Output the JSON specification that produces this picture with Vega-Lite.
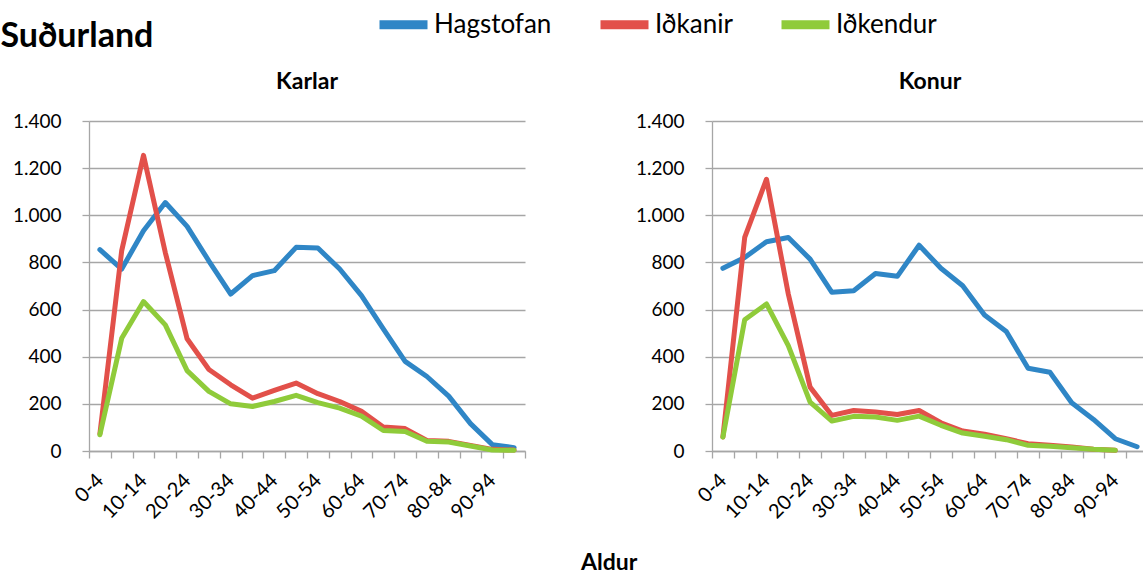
{
  "$schema": "https://vega.github.io/schema/vega-lite/v6.json",
  "padding": {"left": 0, "top": -4, "right": 0, "bottom": 0},
  "title": {"text": "Suðurland", "anchor": "start", "dx": -12, "fontSize": 34, "font": "Lato", "fontWeight": "bold", "color": "#000000", "offset": -58},
  "data": {"values": [
    {"kyn":"Karlar","aldur":"0-4","rod":"Hagstofan","fjoldi":854},
    {"kyn":"Karlar","aldur":"5-9","rod":"Hagstofan","fjoldi":772},
    {"kyn":"Karlar","aldur":"10-14","rod":"Hagstofan","fjoldi":934},
    {"kyn":"Karlar","aldur":"15-19","rod":"Hagstofan","fjoldi":1054},
    {"kyn":"Karlar","aldur":"20-24","rod":"Hagstofan","fjoldi":953},
    {"kyn":"Karlar","aldur":"25-29","rod":"Hagstofan","fjoldi":806},
    {"kyn":"Karlar","aldur":"30-34","rod":"Hagstofan","fjoldi":666},
    {"kyn":"Karlar","aldur":"35-39","rod":"Hagstofan","fjoldi":744},
    {"kyn":"Karlar","aldur":"40-44","rod":"Hagstofan","fjoldi":765},
    {"kyn":"Karlar","aldur":"45-49","rod":"Hagstofan","fjoldi":864},
    {"kyn":"Karlar","aldur":"50-54","rod":"Hagstofan","fjoldi":861},
    {"kyn":"Karlar","aldur":"55-59","rod":"Hagstofan","fjoldi":772},
    {"kyn":"Karlar","aldur":"60-64","rod":"Hagstofan","fjoldi":659},
    {"kyn":"Karlar","aldur":"65-69","rod":"Hagstofan","fjoldi":518},
    {"kyn":"Karlar","aldur":"70-74","rod":"Hagstofan","fjoldi":380},
    {"kyn":"Karlar","aldur":"75-79","rod":"Hagstofan","fjoldi":316},
    {"kyn":"Karlar","aldur":"80-84","rod":"Hagstofan","fjoldi":233},
    {"kyn":"Karlar","aldur":"85-89","rod":"Hagstofan","fjoldi":116},
    {"kyn":"Karlar","aldur":"90-94","rod":"Hagstofan","fjoldi":27},
    {"kyn":"Karlar","aldur":"95-99","rod":"Hagstofan","fjoldi":14},
    {"kyn":"Karlar","aldur":"0-4","rod":"Iðkanir","fjoldi":73},
    {"kyn":"Karlar","aldur":"5-9","rod":"Iðkanir","fjoldi":850},
    {"kyn":"Karlar","aldur":"10-14","rod":"Iðkanir","fjoldi":1254},
    {"kyn":"Karlar","aldur":"15-19","rod":"Iðkanir","fjoldi":842},
    {"kyn":"Karlar","aldur":"20-24","rod":"Iðkanir","fjoldi":476},
    {"kyn":"Karlar","aldur":"25-29","rod":"Iðkanir","fjoldi":346},
    {"kyn":"Karlar","aldur":"30-34","rod":"Iðkanir","fjoldi":281},
    {"kyn":"Karlar","aldur":"35-39","rod":"Iðkanir","fjoldi":224},
    {"kyn":"Karlar","aldur":"40-44","rod":"Iðkanir","fjoldi":257},
    {"kyn":"Karlar","aldur":"45-49","rod":"Iðkanir","fjoldi":288},
    {"kyn":"Karlar","aldur":"50-54","rod":"Iðkanir","fjoldi":243},
    {"kyn":"Karlar","aldur":"55-59","rod":"Iðkanir","fjoldi":210},
    {"kyn":"Karlar","aldur":"60-64","rod":"Iðkanir","fjoldi":168},
    {"kyn":"Karlar","aldur":"65-69","rod":"Iðkanir","fjoldi":102},
    {"kyn":"Karlar","aldur":"70-74","rod":"Iðkanir","fjoldi":95},
    {"kyn":"Karlar","aldur":"75-79","rod":"Iðkanir","fjoldi":45},
    {"kyn":"Karlar","aldur":"80-84","rod":"Iðkanir","fjoldi":41},
    {"kyn":"Karlar","aldur":"85-89","rod":"Iðkanir","fjoldi":24},
    {"kyn":"Karlar","aldur":"90-94","rod":"Iðkanir","fjoldi":7},
    {"kyn":"Karlar","aldur":"95-99","rod":"Iðkanir","fjoldi":4},
    {"kyn":"Karlar","aldur":"0-4","rod":"Iðkendur","fjoldi":69},
    {"kyn":"Karlar","aldur":"5-9","rod":"Iðkendur","fjoldi":478},
    {"kyn":"Karlar","aldur":"10-14","rod":"Iðkendur","fjoldi":634},
    {"kyn":"Karlar","aldur":"15-19","rod":"Iðkendur","fjoldi":535},
    {"kyn":"Karlar","aldur":"20-24","rod":"Iðkendur","fjoldi":341},
    {"kyn":"Karlar","aldur":"25-29","rod":"Iðkendur","fjoldi":253},
    {"kyn":"Karlar","aldur":"30-34","rod":"Iðkendur","fjoldi":200},
    {"kyn":"Karlar","aldur":"35-39","rod":"Iðkendur","fjoldi":189},
    {"kyn":"Karlar","aldur":"40-44","rod":"Iðkendur","fjoldi":210},
    {"kyn":"Karlar","aldur":"45-49","rod":"Iðkendur","fjoldi":236},
    {"kyn":"Karlar","aldur":"50-54","rod":"Iðkendur","fjoldi":205},
    {"kyn":"Karlar","aldur":"55-59","rod":"Iðkendur","fjoldi":182},
    {"kyn":"Karlar","aldur":"60-64","rod":"Iðkendur","fjoldi":148},
    {"kyn":"Karlar","aldur":"65-69","rod":"Iðkendur","fjoldi":87},
    {"kyn":"Karlar","aldur":"70-74","rod":"Iðkendur","fjoldi":83},
    {"kyn":"Karlar","aldur":"75-79","rod":"Iðkendur","fjoldi":41},
    {"kyn":"Karlar","aldur":"80-84","rod":"Iðkendur","fjoldi":38},
    {"kyn":"Karlar","aldur":"85-89","rod":"Iðkendur","fjoldi":21},
    {"kyn":"Karlar","aldur":"90-94","rod":"Iðkendur","fjoldi":4},
    {"kyn":"Karlar","aldur":"95-99","rod":"Iðkendur","fjoldi":3},
    {"kyn":"Konur","aldur":"0-4","rod":"Hagstofan","fjoldi":775},
    {"kyn":"Konur","aldur":"5-9","rod":"Hagstofan","fjoldi":821},
    {"kyn":"Konur","aldur":"10-14","rod":"Hagstofan","fjoldi":888},
    {"kyn":"Konur","aldur":"15-19","rod":"Hagstofan","fjoldi":906},
    {"kyn":"Konur","aldur":"20-24","rod":"Hagstofan","fjoldi":814},
    {"kyn":"Konur","aldur":"25-29","rod":"Hagstofan","fjoldi":673},
    {"kyn":"Konur","aldur":"30-34","rod":"Hagstofan","fjoldi":680},
    {"kyn":"Konur","aldur":"35-39","rod":"Hagstofan","fjoldi":753},
    {"kyn":"Konur","aldur":"40-44","rod":"Hagstofan","fjoldi":741},
    {"kyn":"Konur","aldur":"45-49","rod":"Hagstofan","fjoldi":873},
    {"kyn":"Konur","aldur":"50-54","rod":"Hagstofan","fjoldi":775},
    {"kyn":"Konur","aldur":"55-59","rod":"Hagstofan","fjoldi":701},
    {"kyn":"Konur","aldur":"60-64","rod":"Hagstofan","fjoldi":577},
    {"kyn":"Konur","aldur":"65-69","rod":"Hagstofan","fjoldi":507},
    {"kyn":"Konur","aldur":"70-74","rod":"Hagstofan","fjoldi":351},
    {"kyn":"Konur","aldur":"75-79","rod":"Hagstofan","fjoldi":334},
    {"kyn":"Konur","aldur":"80-84","rod":"Hagstofan","fjoldi":205},
    {"kyn":"Konur","aldur":"85-89","rod":"Hagstofan","fjoldi":134},
    {"kyn":"Konur","aldur":"90-94","rod":"Hagstofan","fjoldi":52},
    {"kyn":"Konur","aldur":"95-99","rod":"Hagstofan","fjoldi":18},
    {"kyn":"Konur","aldur":"0-4","rod":"Iðkanir","fjoldi":59},
    {"kyn":"Konur","aldur":"5-9","rod":"Iðkanir","fjoldi":906},
    {"kyn":"Konur","aldur":"10-14","rod":"Iðkanir","fjoldi":1153},
    {"kyn":"Konur","aldur":"15-19","rod":"Iðkanir","fjoldi":666},
    {"kyn":"Konur","aldur":"20-24","rod":"Iðkanir","fjoldi":271},
    {"kyn":"Konur","aldur":"25-29","rod":"Iðkanir","fjoldi":151},
    {"kyn":"Konur","aldur":"30-34","rod":"Iðkanir","fjoldi":172},
    {"kyn":"Konur","aldur":"35-39","rod":"Iðkanir","fjoldi":165},
    {"kyn":"Konur","aldur":"40-44","rod":"Iðkanir","fjoldi":155},
    {"kyn":"Konur","aldur":"45-49","rod":"Iðkanir","fjoldi":172},
    {"kyn":"Konur","aldur":"50-54","rod":"Iðkanir","fjoldi":120},
    {"kyn":"Konur","aldur":"55-59","rod":"Iðkanir","fjoldi":85},
    {"kyn":"Konur","aldur":"60-64","rod":"Iðkanir","fjoldi":71},
    {"kyn":"Konur","aldur":"65-69","rod":"Iðkanir","fjoldi":52},
    {"kyn":"Konur","aldur":"70-74","rod":"Iðkanir","fjoldi":31},
    {"kyn":"Konur","aldur":"75-79","rod":"Iðkanir","fjoldi":24},
    {"kyn":"Konur","aldur":"80-84","rod":"Iðkanir","fjoldi":17},
    {"kyn":"Konur","aldur":"85-89","rod":"Iðkanir","fjoldi":7},
    {"kyn":"Konur","aldur":"90-94","rod":"Iðkanir","fjoldi":3},
    {"kyn":"Konur","aldur":"0-4","rod":"Iðkendur","fjoldi":59},
    {"kyn":"Konur","aldur":"5-9","rod":"Iðkendur","fjoldi":557},
    {"kyn":"Konur","aldur":"10-14","rod":"Iðkendur","fjoldi":624},
    {"kyn":"Konur","aldur":"15-19","rod":"Iðkendur","fjoldi":447},
    {"kyn":"Konur","aldur":"20-24","rod":"Iðkendur","fjoldi":207},
    {"kyn":"Konur","aldur":"25-29","rod":"Iðkendur","fjoldi":127},
    {"kyn":"Konur","aldur":"30-34","rod":"Iðkendur","fjoldi":147},
    {"kyn":"Konur","aldur":"35-39","rod":"Iðkendur","fjoldi":144},
    {"kyn":"Konur","aldur":"40-44","rod":"Iðkendur","fjoldi":130},
    {"kyn":"Konur","aldur":"45-49","rod":"Iðkendur","fjoldi":148},
    {"kyn":"Konur","aldur":"50-54","rod":"Iðkendur","fjoldi":109},
    {"kyn":"Konur","aldur":"55-59","rod":"Iðkendur","fjoldi":76},
    {"kyn":"Konur","aldur":"60-64","rod":"Iðkendur","fjoldi":63},
    {"kyn":"Konur","aldur":"65-69","rod":"Iðkendur","fjoldi":48},
    {"kyn":"Konur","aldur":"70-74","rod":"Iðkendur","fjoldi":24},
    {"kyn":"Konur","aldur":"75-79","rod":"Iðkendur","fjoldi":20},
    {"kyn":"Konur","aldur":"80-84","rod":"Iðkendur","fjoldi":14},
    {"kyn":"Konur","aldur":"85-89","rod":"Iðkendur","fjoldi":7},
    {"kyn":"Konur","aldur":"90-94","rod":"Iðkendur","fjoldi":3}
  ]},
  "facet": {
    "column": {
      "field": "kyn", "type": "nominal", "sort": ["Karlar", "Konur"],
      "header": {
        "title": "Aldur", "titleOrient": "bottom", "labelOrient": "top", "titleAlign": "left",
        "titleFont": "Lato", "titleFontSize": 23, "titleFontWeight": "bold", "titleColor": "#000000", "titlePadding": 19,
        "labelFont": "Lato", "labelFontSize": 23, "labelFontWeight": "bold", "labelColor": "#000000", "labelPadding": 18
      }
    }
  },
  "spacing": 109,
  "resolve": {"axis": {"y": "independent", "x": "independent"}},
  "spec": {
    "width": 436,
    "height": 330,
    "mark": {"type": "line", "strokeWidth": 5, "strokeJoin": "round", "strokeCap": "round"},
    "encoding": {
      "x": {
        "field": "aldur", "type": "ordinal", "bandPosition": 0.5,
        "scale": {"type": "band", "paddingInner": 0, "paddingOuter": 0,
          "domain": ["0-4","5-9","10-14","15-19","20-24","25-29","30-34","35-39","40-44","45-49","50-54","55-59","60-64","65-69","70-74","75-79","80-84","85-89","90-94","95-99"]},
        "axis": {
          "title": null, "grid": false, "tickBand": "extent", "tickSize": 7, "tickColor": "#a6a6a6", "tickWidth": 1.3,
          "domainColor": "#a6a6a6", "domainWidth": 1.3,
          "labelAngle": -45, "labelAlign": "right", "labelBaseline": "middle", "labelPadding": 19,
          "labelFont": "Lato", "labelFontSize": 20, "labelColor": "#000000",
          "labelExpr": "indexof(['0-4','10-14','20-24','30-34','40-44','50-54','60-64','70-74','80-84','90-94'], datum.value) >= 0 ? datum.value : ''"
        }
      },
      "y": {
        "field": "fjoldi", "type": "quantitative",
        "scale": {"domain": [0, 1400], "nice": false},
        "axis": {
          "title": null, "values": [0, 200, 400, 600, 800, 1000, 1200, 1400],
          "grid": true, "gridColor": "#a6a6a6", "gridWidth": 1.3,
          "domainColor": "#a6a6a6", "domainWidth": 1.3, "tickColor": "#a6a6a6", "tickWidth": 1.3, "tickSize": 7,
          "labelPadding": 21, "labelFont": "Lato", "labelFontSize": 19, "labelColor": "#000000",
          "labelExpr": "replace(format(datum.value, ','), ',', '.')"
        }
      },
      "color": {
        "field": "rod", "type": "nominal",
        "scale": {"domain": ["Hagstofan", "Iðkanir", "Iðkendur"], "range": ["#2f86c6", "#e2504a", "#8fcb3a"]},
        "legend": {
          "title": null, "orient": "none", "direction": "horizontal", "legendX": 286, "legendY": -125,
          "symbolType": "stroke", "symbolStrokeWidth": 9, "symbolSize": 2304,
          "labelFont": "Lato", "labelFontSize": 26, "labelColor": "#000000", "labelOffset": 2, "columnPadding": 30
        }
      }
    }
  },
  "config": {"view": {"stroke": null}, "font": "Lato"}
}
